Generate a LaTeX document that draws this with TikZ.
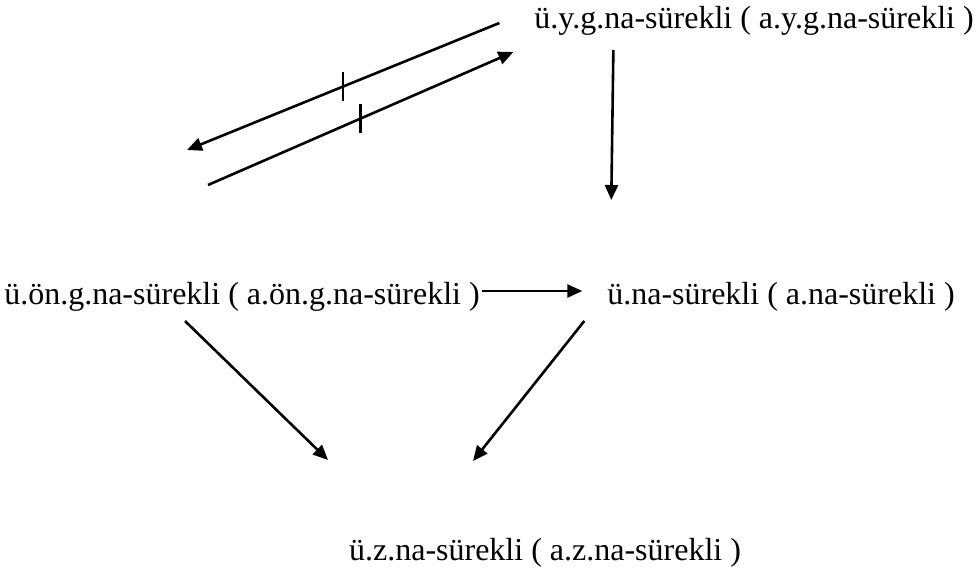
\documentclass[tikz,border=0pt]{standalone}
\usepackage{fontspec}
\setmainfont{Liberation Serif}
\usetikzlibrary{arrows.meta}
\begin{document}
\begin{tikzpicture}[x=1pt, y=-1pt,
    lbl/.style={inner sep=0pt, outer sep=0pt, anchor=base, font=\fontsize{32}{38}\selectfont},
    arr/.style={line width=2.6pt, -{Triangle[length=15pt,width=13pt]}},
    bar/.style={line width=2.6pt}]
    \useasboundingbox (0,0) rectangle (979,578);
    \node[lbl] (yg) at (754,29) {ü.y.g.na-sürekli ( a.y.g.na-sürekli )};
    \node[lbl] (ong) at (242,304) {ü.ön.g.na-sürekli ( a.ön.g.na-sürekli )};
    \node[lbl] (na) at (781,304) {ü.na-sürekli ( a.na-sürekli )};
    \node[lbl] (z) at (545,560) {ü.z.na-sürekli ( a.z.na-sürekli )};
    \coordinate (up) at (187,150);
    \coordinate (lo) at (208,185);
    % the two crossed-out arrows
    \draw[arr] ([shift={(-35,-6)}]yg.base west) -- coordinate[pos=.5] (m1) (up);
    \draw[arr] (lo) -- coordinate[pos=.5] (m2) ([shift={(-21,23)}]yg.base west);
    \draw[bar] ([yshift=14.5pt]m1) -- ([yshift=-14.5pt]m1);
    \draw[bar] ([yshift=14.5pt]m2) -- ([yshift=-14.5pt]m2);
    \draw[arr] ([shift={(79,21)}]yg.base west) -- ([shift={(4,-104)}]na.base west);
    \draw[arr] ([shift={(2,-13)}]ong.base east) -- ([shift={(-25,-13)}]na.base west);
    \draw[arr] ([shift={(-57,17)}]ong.base) -- ([shift={(-217,-100)}]z.base);
    \draw[arr] ([shift={(-23,17)}]na.base west) -- ([shift={(-72,-99)}]z.base);
\end{tikzpicture}
\end{document}
